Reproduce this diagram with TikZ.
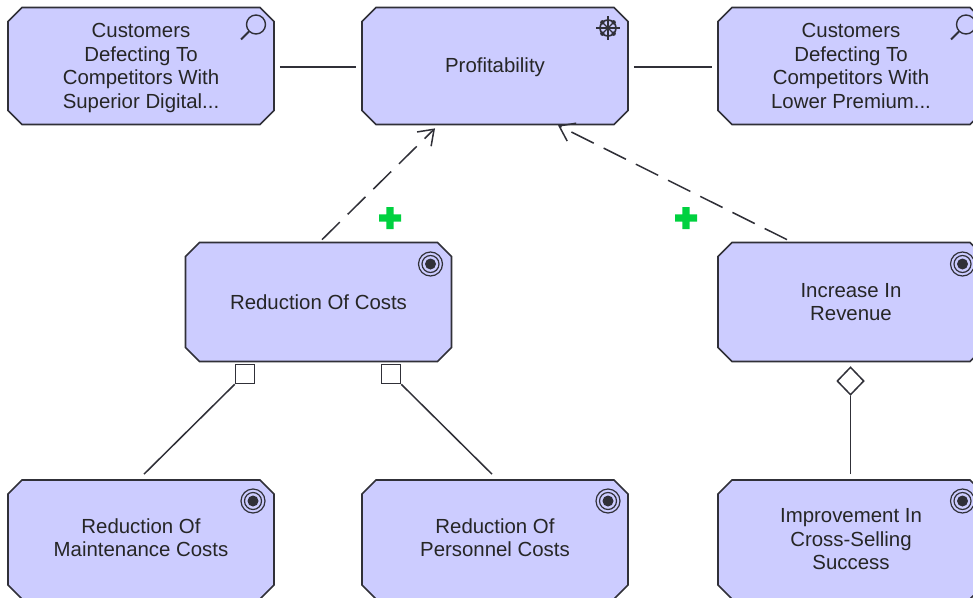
\documentclass[tikz,border=0pt]{standalone}
\usepackage{fontspec}
\setmainfont{Liberation Sans}
\usetikzlibrary{shapes.misc,shapes.geometric,arrows.meta}
\definecolor{boxfill}{HTML}{CCCCFF}
\definecolor{ink}{HTML}{303038}
\definecolor{plusgreen}{HTML}{00D13F}
\newcommand{\lowg}{\vphantom{g}}
\newcommand{\tallr}[1]{\rule{0pt}{#1pt}}
\tikzset{
  el/.style={chamfered rectangle,chamfered rectangle xsep=7pt,chamfered rectangle ysep=7pt,
    draw=ink,fill=boxfill,line width=1.7pt,minimum width=266pt,minimum height=#1,inner sep=0pt,
    align=center,font=\fontsize{20.4}{23.5}\selectfont,text=black!85},
  el/.default=117pt,
  assoc/.style={draw=ink,line width=1.5pt,shorten >=5pt,shorten <=5pt},
  influ/.style={draw=ink,line width=1.5pt,dash pattern=on 25pt off 11pt,-{Straight Barb[length=14pt,width=20pt,line width=1.5pt]}},
  compo/.style={draw=ink,line width=1.5pt},
  sq/.style={rectangle,draw=ink,fill=white,line width=1.5pt,minimum size=19pt,inner sep=0pt},
  dia/.style={diamond,draw=ink,fill=white,line width=1.5pt,minimum width=27pt,minimum height=28pt,inner sep=0pt},
  ico/.style={draw=ink,line width=1.3pt},
  pics/lens/.style={code={
    \draw[ico,line width=1.4pt] (0,0) circle (9.5pt);
    \draw[ico,line width=1.8pt] (-7,7) -- (-15,15);}},
  pics/target/.style={code={
    \draw[ico,line width=1.2pt] (0,0) circle (12pt) (0,0) circle (8.5pt);
    \fill[ink] (0,0) circle (5.5pt);}},
  pics/wheel/.style={code={
    \draw[ico,line width=1.6pt] (0,0) circle (8pt);
    \foreach \a in {0,45,...,315}{\draw[ico,line width=1.3pt] (0,0) -- (\a:\ifodd\numexpr\a/45\relax 9pt\else 12pt\fi);}
    \foreach \a in {45,135,225,315}{\fill[ink] (\a:8pt) circle (2.2pt);}
    \fill[ink] (0,0) circle (2pt);}},
  pics/plusmark/.style={code={
    \fill[plusgreen] (-3.7,-11) rectangle (3.7,11) (-11,-3.7) rectangle (11,3.7);}},
}
\begin{document}
\begin{tikzpicture}[x=1pt,y=-1pt]
\clip (0,0) rectangle (973,597);
\fill[white] (0,0) rectangle (973,597);
\node[el] (c1) at (141,66) {\tallr{18}Customers\\Defecting To\\Competitors With\\Superior Digital...};
\node[el] (pr) at (495,66) {\tallr{17}Profitability};
\node[el] (c2) at (851,66) {\tallr{18}Customers\\Defecting To\\Competitors With\\Lower Premium...\lowg};
\node[el=119pt] (rc) at (318.5,302) {Reduction Of Costs};
\node[el=119pt] (ir) at (851,302) {Increase In\\Revenue};
\node[el=119pt] (rm) at (141,539.5) {Reduction Of\\Maintenance Costs\lowg};
\node[el=119pt] (rp) at (495,539.5) {Reduction Of\\Personnel Costs\lowg};
\node[el=119pt] (ic) at (851,539.5) {Improvement In\\Cross-Selling\\Success};
\pic at (256,24.5) {lens};
\pic at (966,24.5) {lens};
\pic at (608,28) {wheel};
\pic at (430.5,264) {target};
\pic at (962.5,264) {target};
\pic at (253,501) {target};
\pic at (608,501) {target};
\pic at (962.5,501) {target};
\draw[assoc] ([yshift=-1pt]c1.east) -- ([yshift=-1pt]pr.west);
\draw[assoc] ([yshift=-1pt]pr.east) -- ([yshift=-1pt]c2.west);
\draw[influ] ([xshift=3.5pt,yshift=2pt]rc.north) -- ([xshift=-60pt,yshift=-3pt]pr.south);
\draw[influ] ([xshift=-64pt,yshift=2pt]ir.north) -- ([xshift=63pt,yshift=0pt]pr.south);
\node[sq] (s1) at (245,374) {};
\node[sq] (s2) at (391,374) {};
\node[dia] (d1) at (850.5,381) {};
\draw[compo] ([xshift=3pt,yshift=5pt]rm.north) -- (s1.south west);
\draw[compo] ([xshift=-3pt,yshift=5pt]rp.north) -- (s2.south east);
\draw[compo] ([xshift=-.5pt,yshift=5pt]ic.north) -- (d1.south);
\pic at (390,218) {plusmark};
\pic at (686,218) {plusmark};
\end{tikzpicture}
\end{document}
